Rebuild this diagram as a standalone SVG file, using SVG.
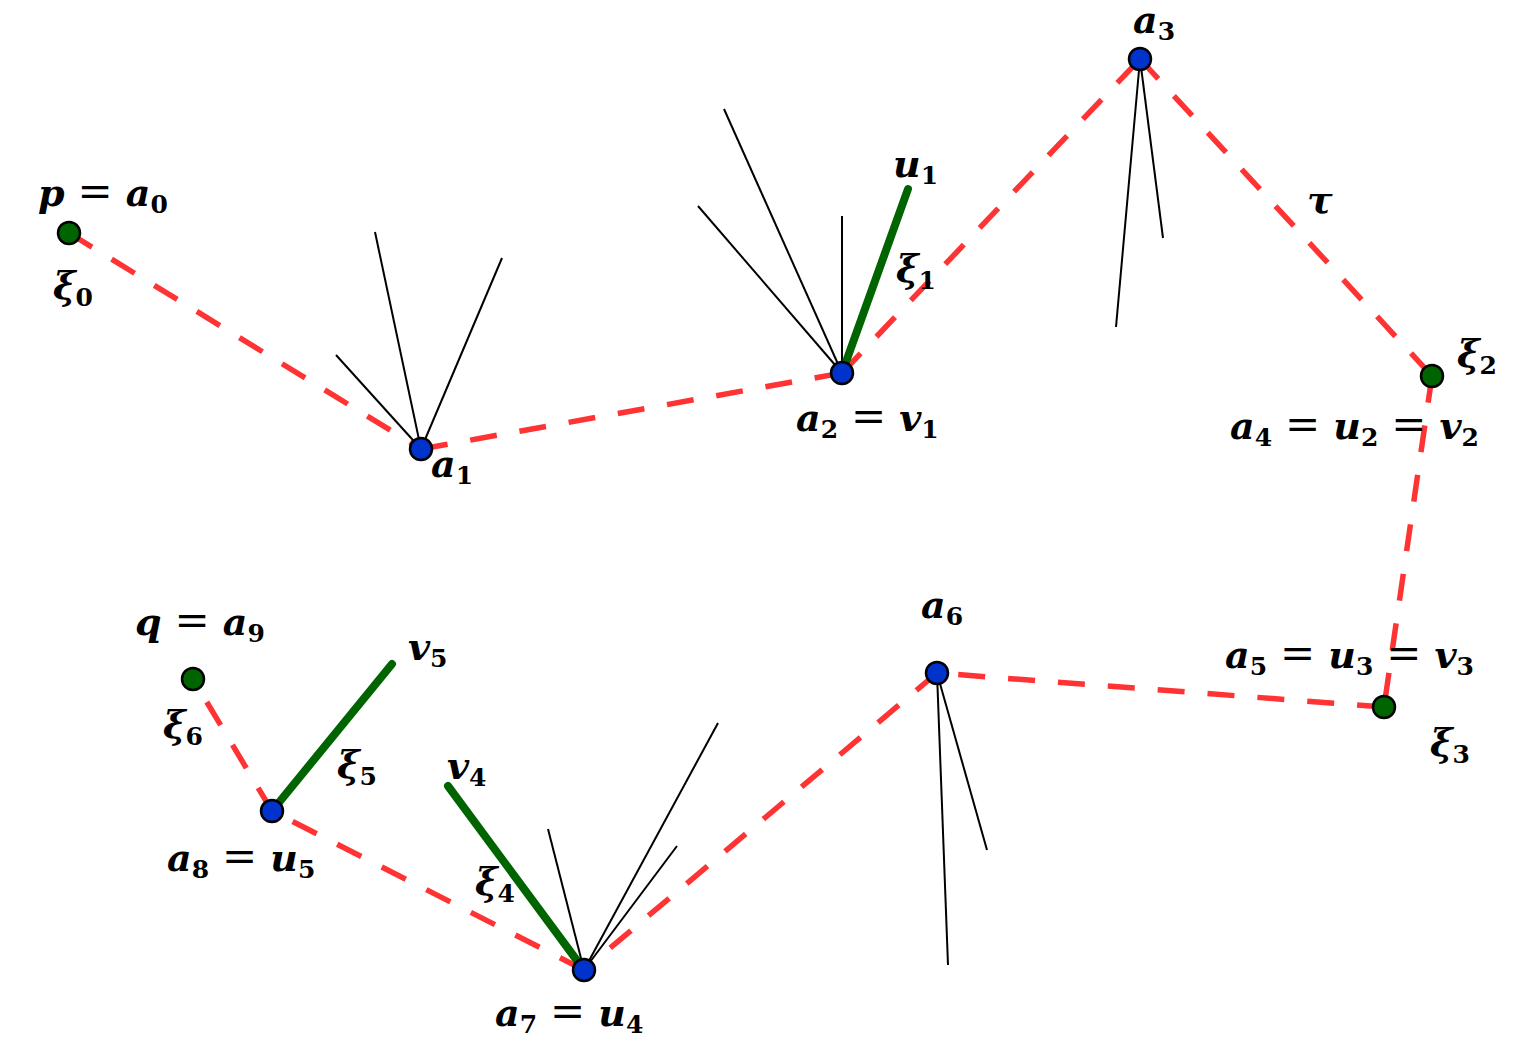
<svg xmlns="http://www.w3.org/2000/svg" width="1535" height="1047" viewBox="0 0 1535 1047">
<style>
.bg{fill:#ffffff}
.red{stroke:#ff3333;stroke-width:5.5;stroke-dasharray:27 23;fill:none}
.thin{stroke:#000;stroke-width:2;fill:none}
.thick{stroke:#006400;stroke-width:8;stroke-linecap:round;fill:none}
.nb{fill:#0033cc;stroke:#000;stroke-width:2.5}
.ng{fill:#006400;stroke:#000;stroke-width:2.5}
.m{font-family:"DejaVu Serif","Liberation Serif",serif;font-style:italic;font-weight:bold;font-size:38px;fill:#000}
.s{font-style:normal;font-size:25px}
.e{font-style:normal;font-weight:normal;font-size:42px}
</style>
<rect class="bg" x="0" y="0" width="1535" height="1047"/>
<g id="connectors">
<line class="red" x1="69" y1="233" x2="421" y2="449"/>
<line class="red" x1="421" y1="449" x2="842" y2="373"/>
<line class="red" x1="842" y1="373" x2="1140" y2="59"/>
<line class="red" x1="1140" y1="59" x2="1432" y2="376"/>
<line class="red" x1="1432" y1="376" x2="1384" y2="707"/>
<line class="red" x1="1384" y1="707" x2="937" y2="673"/>
<line class="red" x1="937" y1="673" x2="584" y2="970"/>
<line class="red" x1="584" y1="970" x2="272" y2="811"/>
<line class="red" x1="272" y1="811" x2="193" y2="679"/>
<line class="thin" x1="421" y1="449" x2="375" y2="232"/>
<line class="thin" x1="421" y1="449" x2="502" y2="258"/>
<line class="thin" x1="421" y1="449" x2="336" y2="355"/>
<line class="thin" x1="842" y1="373" x2="724" y2="109"/>
<line class="thin" x1="842" y1="373" x2="698" y2="206"/>
<line class="thin" x1="842" y1="373" x2="842" y2="216"/>
<line class="thin" x1="1140" y1="59" x2="1116" y2="327"/>
<line class="thin" x1="1140" y1="59" x2="1163" y2="238"/>
<line class="thin" x1="937" y1="673" x2="948" y2="965"/>
<line class="thin" x1="937" y1="673" x2="987" y2="850"/>
<line class="thin" x1="584" y1="970" x2="548" y2="829"/>
<line class="thin" x1="584" y1="970" x2="718" y2="723"/>
<line class="thin" x1="584" y1="970" x2="677" y2="846"/>
<line class="thick" x1="842" y1="373" x2="908" y2="189"/>
<line class="thick" x1="584" y1="970" x2="448" y2="786"/>
<line class="thick" x1="272" y1="811" x2="392" y2="664"/>
</g>
<g id="n-a0"><circle class="ng" cx="69" cy="233" r="11"/></g>
<g id="n-a1"><circle class="nb" cx="421" cy="449" r="11"/></g>
<g id="n-a2"><circle class="nb" cx="842" cy="373" r="11"/></g>
<g id="n-a3"><circle class="nb" cx="1140" cy="59" r="11"/></g>
<g id="n-xi2"><circle class="ng" cx="1432" cy="376" r="11"/></g>
<g id="n-xi3"><circle class="ng" cx="1384" cy="707" r="11"/></g>
<g id="n-a6"><circle class="nb" cx="937" cy="673" r="11"/></g>
<g id="n-a7"><circle class="nb" cx="584" cy="970" r="11"/></g>
<g id="n-a8"><circle class="nb" cx="272" cy="811" r="11"/></g>
<g id="n-a9"><circle class="ng" cx="193" cy="679" r="11"/></g>
<g id="labels">
<text class="m" x="38" y="206">p<tspan class="e" dx="13">=</tspan><tspan dx="13">a</tspan><tspan class="s" dy="7">0</tspan></text>
<text class="m" x="53" y="299">ξ<tspan class="s" dy="7">0</tspan></text>
<text class="m" x="431" y="477">a<tspan class="s" dy="7">1</tspan></text>
<text class="m" x="796" y="431">a<tspan class="s" dy="7">2</tspan><tspan class="e" dx="13" dy="-7">=</tspan><tspan dx="13">v</tspan><tspan class="s" dy="7">1</tspan></text>
<text class="m" x="893" y="177">u<tspan class="s" dy="7">1</tspan></text>
<text class="m" x="896" y="282">ξ<tspan class="s" dy="7">1</tspan></text>
<text class="m" x="1133" y="33">a<tspan class="s" dy="7">3</tspan></text>
<text class="m" x="1307" y="213">τ</text>
<text class="m" x="1457" y="367">ξ<tspan class="s" dy="7">2</tspan></text>
<text class="m" x="1230" y="439">a<tspan class="s" dy="7">4</tspan><tspan class="e" dx="13" dy="-7">=</tspan><tspan dx="13">u</tspan><tspan class="s" dy="7">2</tspan><tspan class="e" dx="13" dy="-7">=</tspan><tspan dx="13">v</tspan><tspan class="s" dy="7">2</tspan></text>
<text class="m" x="1225" y="668">a<tspan class="s" dy="7">5</tspan><tspan class="e" dx="13" dy="-7">=</tspan><tspan dx="13">u</tspan><tspan class="s" dy="7">3</tspan><tspan class="e" dx="13" dy="-7">=</tspan><tspan dx="13">v</tspan><tspan class="s" dy="7">3</tspan></text>
<text class="m" x="1430" y="756">ξ<tspan class="s" dy="7">3</tspan></text>
<text class="m" x="921" y="618">a<tspan class="s" dy="7">6</tspan></text>
<text class="m" x="135" y="635">q<tspan class="e" dx="13">=</tspan><tspan dx="13">a</tspan><tspan class="s" dy="7">9</tspan></text>
<text class="m" x="163" y="738">ξ<tspan class="s" dy="7">6</tspan></text>
<text class="m" x="408" y="660">v<tspan class="s" dy="7">5</tspan></text>
<text class="m" x="337" y="778">ξ<tspan class="s" dy="7">5</tspan></text>
<text class="m" x="447" y="779">v<tspan class="s" dy="7">4</tspan></text>
<text class="m" x="475" y="895">ξ<tspan class="s" dy="7">4</tspan></text>
<text class="m" x="167" y="871">a<tspan class="s" dy="7">8</tspan><tspan class="e" dx="13" dy="-7">=</tspan><tspan dx="13">u</tspan><tspan class="s" dy="7">5</tspan></text>
<text class="m" x="495" y="1026">a<tspan class="s" dy="7">7</tspan><tspan class="e" dx="13" dy="-7">=</tspan><tspan dx="13">u</tspan><tspan class="s" dy="7">4</tspan></text>
</g>
</svg>
